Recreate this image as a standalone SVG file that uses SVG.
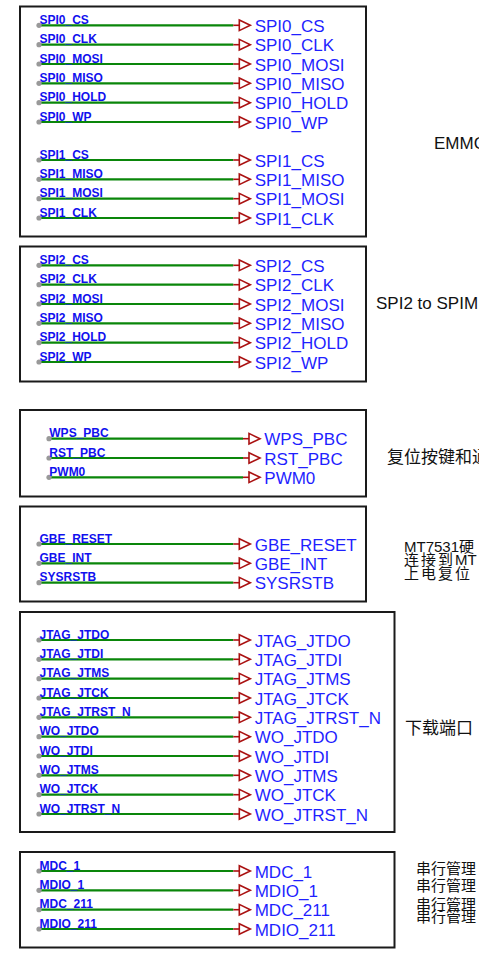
<svg xmlns="http://www.w3.org/2000/svg" xmlns:xlink="http://www.w3.org/1999/xlink" width="479" height="955" viewBox="0 0 479 955">
<style>
.box{fill:#fff;stroke:#1a1a1a;stroke-width:2}
.w{stroke:#0a860a;stroke-width:2.2;fill:none}
.d{fill:#999}
.s{font-family:"Liberation Sans",Arial,sans-serif;font-size:12px;font-weight:bold;fill:#1010ee}
.b{font-family:"Liberation Sans",Arial,sans-serif;font-size:17px;fill:#1f1fff}
.n{font-family:"Liberation Sans","Noto Sans CJK SC",sans-serif;font-size:17px;fill:#111}
.m{font-family:"Liberation Sans","Noto Sans CJK SC",sans-serif;font-size:15px;fill:#111}
</style>
<defs>
<g id="port"><line x1="0" y1="0" x2="6" y2="0" stroke="#aa1111" stroke-width="1.6"/><polygon points="6,-5.3 17,0 6,5.3" fill="#fff" stroke="#aa1111" stroke-width="1.6"/></g>
</defs>
<rect width="479" height="955" fill="#fff"/>
<g id="box1"><rect class="box" x="20" y="6.5" width="346" height="230"/></g>
<g id="box2"><rect class="box" x="20" y="246.5" width="346" height="135"/></g>
<g id="box3"><rect class="box" x="20" y="410" width="346" height="86.5"/></g>
<g id="box4"><rect class="box" x="20" y="506.5" width="346" height="95"/></g>
<g id="box5"><rect class="box" x="20" y="612" width="374.5" height="220"/></g>
<g id="box6"><rect class="box" x="20" y="852" width="374.5" height="95.5"/></g>
<g id="connectors">
<path class="w" d="M39 25.3H233.3M39 44.7H233.3M39 64H233.3M39 83.3H233.3M39 102.7H233.3M39 122H233.3M39 160H233.3M39 179.3H233.3M39 198.7H233.3M39 218H233.3M39 265.3H233.3M39 284.7H233.3M39 304H233.3M39 323.3H233.3M39 342.7H233.3M39 362H233.3M49 438.7H243M49 458H243M49 477.3H243M39 544H233.3M39 563.3H233.3M39 582.7H233.3M39 640H233.3M39 659.3H233.3M39 678.7H233.3M39 698H233.3M39 717.3H233.3M39 736.7H233.3M39 756H233.3M39 775.3H233.3M39 794.7H233.3M39 814H233.3M39 871H233.3M39 890.3H233.3M39 909.7H233.3M39 929H233.3"/>
</g>
<g id="dots">
<circle class="d" cx="39" cy="25.3" r="2.6"/><circle class="d" cx="39" cy="44.7" r="2.6"/><circle class="d" cx="39" cy="64" r="2.6"/><circle class="d" cx="39" cy="83.3" r="2.6"/><circle class="d" cx="39" cy="102.7" r="2.6"/><circle class="d" cx="39" cy="122" r="2.6"/>
<circle class="d" cx="39" cy="160" r="2.6"/><circle class="d" cx="39" cy="179.3" r="2.6"/><circle class="d" cx="39" cy="198.7" r="2.6"/><circle class="d" cx="39" cy="218" r="2.6"/>
<circle class="d" cx="39" cy="265.3" r="2.6"/><circle class="d" cx="39" cy="284.7" r="2.6"/><circle class="d" cx="39" cy="304" r="2.6"/><circle class="d" cx="39" cy="323.3" r="2.6"/><circle class="d" cx="39" cy="342.7" r="2.6"/><circle class="d" cx="39" cy="362" r="2.6"/>
<circle class="d" cx="49" cy="438.7" r="2.6"/><circle class="d" cx="49" cy="458" r="2.6"/><circle class="d" cx="49" cy="477.3" r="2.6"/>
<circle class="d" cx="39" cy="544" r="2.6"/><circle class="d" cx="39" cy="563.3" r="2.6"/><circle class="d" cx="39" cy="582.7" r="2.6"/>
<circle class="d" cx="39" cy="640" r="2.6"/><circle class="d" cx="39" cy="659.3" r="2.6"/><circle class="d" cx="39" cy="678.7" r="2.6"/><circle class="d" cx="39" cy="698" r="2.6"/><circle class="d" cx="39" cy="717.3" r="2.6"/><circle class="d" cx="39" cy="736.7" r="2.6"/><circle class="d" cx="39" cy="756" r="2.6"/><circle class="d" cx="39" cy="775.3" r="2.6"/><circle class="d" cx="39" cy="794.7" r="2.6"/><circle class="d" cx="39" cy="814" r="2.6"/>
<circle class="d" cx="39" cy="871" r="2.6"/><circle class="d" cx="39" cy="890.3" r="2.6"/><circle class="d" cx="39" cy="909.7" r="2.6"/><circle class="d" cx="39" cy="929" r="2.6"/>
</g>
<g id="ports">
<use xlink:href="#port" x="233.3" y="25.3"/><use xlink:href="#port" x="233.3" y="44.7"/><use xlink:href="#port" x="233.3" y="64"/><use xlink:href="#port" x="233.3" y="83.3"/><use xlink:href="#port" x="233.3" y="102.7"/><use xlink:href="#port" x="233.3" y="122"/>
<use xlink:href="#port" x="233.3" y="160"/><use xlink:href="#port" x="233.3" y="179.3"/><use xlink:href="#port" x="233.3" y="198.7"/><use xlink:href="#port" x="233.3" y="218"/>
<use xlink:href="#port" x="233.3" y="265.3"/><use xlink:href="#port" x="233.3" y="284.7"/><use xlink:href="#port" x="233.3" y="304"/><use xlink:href="#port" x="233.3" y="323.3"/><use xlink:href="#port" x="233.3" y="342.7"/><use xlink:href="#port" x="233.3" y="362"/>
<use xlink:href="#port" x="243" y="438.7"/><use xlink:href="#port" x="243" y="458"/><use xlink:href="#port" x="243" y="477.3"/>
<use xlink:href="#port" x="233.3" y="544"/><use xlink:href="#port" x="233.3" y="563.3"/><use xlink:href="#port" x="233.3" y="582.7"/>
<use xlink:href="#port" x="233.3" y="640"/><use xlink:href="#port" x="233.3" y="659.3"/><use xlink:href="#port" x="233.3" y="678.7"/><use xlink:href="#port" x="233.3" y="698"/><use xlink:href="#port" x="233.3" y="717.3"/><use xlink:href="#port" x="233.3" y="736.7"/><use xlink:href="#port" x="233.3" y="756"/><use xlink:href="#port" x="233.3" y="775.3"/><use xlink:href="#port" x="233.3" y="794.7"/><use xlink:href="#port" x="233.3" y="814"/>
<use xlink:href="#port" x="233.3" y="871"/><use xlink:href="#port" x="233.3" y="890.3"/><use xlink:href="#port" x="233.3" y="909.7"/><use xlink:href="#port" x="233.3" y="929"/>
</g>
<g id="netlabels">
<text class="s" x="39.5" y="24">SPI0_CS</text><text class="s" x="39.5" y="43.4">SPI0_CLK</text><text class="s" x="39.5" y="62.7">SPI0_MOSI</text><text class="s" x="39.5" y="82">SPI0_MISO</text><text class="s" x="39.5" y="101.4">SPI0_HOLD</text><text class="s" x="39.5" y="120.7">SPI0_WP</text>
<text class="s" x="39.5" y="158.7">SPI1_CS</text><text class="s" x="39.5" y="178">SPI1_MISO</text><text class="s" x="39.5" y="197.4">SPI1_MOSI</text><text class="s" x="39.5" y="216.7">SPI1_CLK</text>
<text class="s" x="39.5" y="264">SPI2_CS</text><text class="s" x="39.5" y="283.4">SPI2_CLK</text><text class="s" x="39.5" y="302.7">SPI2_MOSI</text><text class="s" x="39.5" y="322">SPI2_MISO</text><text class="s" x="39.5" y="341.4">SPI2_HOLD</text><text class="s" x="39.5" y="360.7">SPI2_WP</text>
<text class="s" x="49.3" y="437.4">WPS_PBC</text><text class="s" x="49.3" y="456.7">RST_PBC</text><text class="s" x="49.3" y="476">PWM0</text>
<text class="s" x="39.5" y="542.7">GBE_RESET</text><text class="s" x="39.5" y="562">GBE_INT</text><text class="s" x="39.5" y="581.4">SYSRSTB</text>
<text class="s" x="39.5" y="638.7">JTAG_JTDO</text><text class="s" x="39.5" y="658">JTAG_JTDI</text><text class="s" x="39.5" y="677.4">JTAG_JTMS</text><text class="s" x="39.5" y="696.7">JTAG_JTCK</text><text class="s" x="39.5" y="716">JTAG_JTRST_N</text><text class="s" x="39.5" y="735.4">WO_JTDO</text><text class="s" x="39.5" y="754.7">WO_JTDI</text><text class="s" x="39.5" y="774">WO_JTMS</text><text class="s" x="39.5" y="793.4">WO_JTCK</text><text class="s" x="39.5" y="812.7">WO_JTRST_N</text>
<text class="s" x="39.5" y="869.7">MDC_1</text><text class="s" x="39.5" y="889">MDIO_1</text><text class="s" x="39.5" y="908.4">MDC_211</text><text class="s" x="39.5" y="927.7">MDIO_211</text>
</g>
<g id="portlabels">
<text class="b" x="254.7" y="31.8">SPI0_CS</text><text class="b" x="254.7" y="51.2">SPI0_CLK</text><text class="b" x="254.7" y="70.5">SPI0_MOSI</text><text class="b" x="254.7" y="89.8">SPI0_MISO</text><text class="b" x="254.7" y="109.2">SPI0_HOLD</text><text class="b" x="254.7" y="128.5">SPI0_WP</text>
<text class="b" x="254.7" y="166.5">SPI1_CS</text><text class="b" x="254.7" y="185.8">SPI1_MISO</text><text class="b" x="254.7" y="205.2">SPI1_MOSI</text><text class="b" x="254.7" y="224.5">SPI1_CLK</text>
<text class="b" x="254.7" y="271.8">SPI2_CS</text><text class="b" x="254.7" y="291.2">SPI2_CLK</text><text class="b" x="254.7" y="310.5">SPI2_MOSI</text><text class="b" x="254.7" y="329.8">SPI2_MISO</text><text class="b" x="254.7" y="349.2">SPI2_HOLD</text><text class="b" x="254.7" y="368.5">SPI2_WP</text>
<text class="b" x="264.3" y="445.2">WPS_PBC</text><text class="b" x="264.3" y="464.5">RST_PBC</text><text class="b" x="264.3" y="483.8">PWM0</text>
<text class="b" x="254.7" y="550.5">GBE_RESET</text><text class="b" x="254.7" y="569.8">GBE_INT</text><text class="b" x="254.7" y="589.2">SYSRSTB</text>
<text class="b" x="254.7" y="646.5">JTAG_JTDO</text><text class="b" x="254.7" y="665.8">JTAG_JTDI</text><text class="b" x="254.7" y="685.2">JTAG_JTMS</text><text class="b" x="254.7" y="704.5">JTAG_JTCK</text><text class="b" x="254.7" y="723.8">JTAG_JTRST_N</text><text class="b" x="254.7" y="743.2">WO_JTDO</text><text class="b" x="254.7" y="762.5">WO_JTDI</text><text class="b" x="254.7" y="781.8">WO_JTMS</text><text class="b" x="254.7" y="801.2">WO_JTCK</text><text class="b" x="254.7" y="820.5">WO_JTRST_N</text>
<text class="b" x="254.7" y="877.5">MDC_1</text><text class="b" x="254.7" y="896.8">MDIO_1</text><text class="b" x="254.7" y="916.2">MDC_211</text><text class="b" x="254.7" y="935.5">MDIO_211</text>
</g>
<g id="notes">
<text class="n" x="434" y="149.3">EMMC</text>
<text class="n" x="376" y="309">SPI2 to SPIM</text>
<text class="n" x="387" y="463">复位按键和通</text>
<text class="m" x="404" y="551.5">MT7531硬</text>
<text class="m" x="404" y="565"><tspan letter-spacing="2">连接到</tspan>MT</text>
<text class="m" x="404" y="579" letter-spacing="2">上电复位</text>
<text class="n" x="405" y="734">下载端口</text>
<text class="m" x="416" y="873.5">串行管理</text>
<text class="m" x="416" y="891">串行管理</text>
<text class="m" x="416" y="909.5">串行管理</text>
<text class="m" x="416" y="922">串行管理</text>
</g>
</svg>
